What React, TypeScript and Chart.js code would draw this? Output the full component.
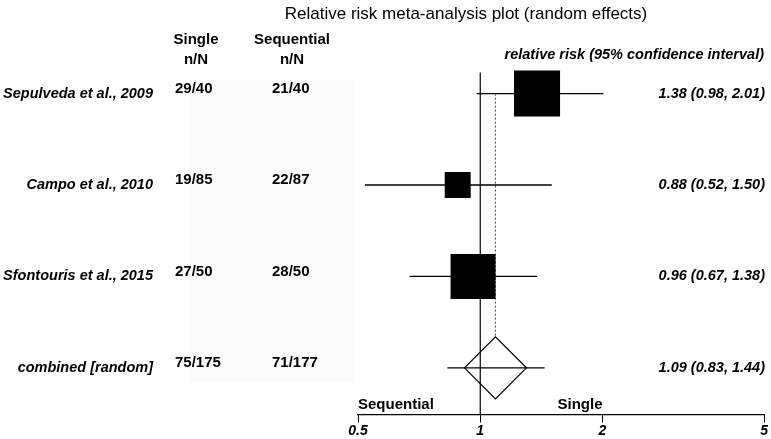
import React, { useEffect, useRef } from "react";
import { Chart, registerables } from "chart.js";

Chart.register(...registerables);

const studies = ["Sepulveda et al., 2009", "Campo et al., 2010", "Sfontouris et al., 2015"];
const singleNN = ["29/40", "19/85", "27/50"];
const sequentialNN = ["21/40", "22/87", "28/50"];
const rr = [1.38, 0.88, 0.96];
const lower = [0.98, 0.52, 0.67];
const upper = [2.01, 1.5, 1.38];
const weights = [44, 14, 42];

const pooledLabel = "combined [random]";
const pooledSingle = "75/175";
const pooledSequential = "71/177";
const pooledRR = 1.09;
const pooledLower = 0.83;
const pooledUpper = 1.44;

const tickValues = [0.5, 1, 2, 5];
const tickLabels = ["0.5", "1", "2", "5"];

const FONT = '"Liberation Sans", Arial, sans-serif';

export default function App() {
  const ref = useRef<HTMLCanvasElement | null>(null);

  useEffect(() => {
    const canvas = ref.current;
    if (!canvas) return;
    const rows = studies.map((_, i) => i + 1);
    const pooledRow = studies.length + 1;

    const textPlugin = {
      id: "forestText",
      beforeDraw(chart: any) {
        const ctx = chart.ctx;
        const y = chart.scales.y;
        ctx.save();
        ctx.fillStyle = "#fbfbfb";
        const top = y.getPixelForValue(1) - 13;
        const bot = y.getPixelForValue(pooledRow) + 15;
        ctx.fillRect(190, top, 164, bot - top);
        ctx.restore();
      },
      afterDraw(chart: any) {
        const ctx = chart.ctx;
        const x = chart.scales.x;
        const y = chart.scales.y;
        ctx.save();
        ctx.fillStyle = "#000";
        ctx.textBaseline = "middle";

        ctx.font = `17px ${FONT}`;
        ctx.textAlign = "center";
        ctx.fillText("Relative risk meta-analysis plot (random effects)", 466, 14);

        ctx.font = `bold 15px ${FONT}`;
        ctx.fillText("Single", 196, 40);
        ctx.fillText("n/N", 196, 60);
        ctx.fillText("Sequential", 292, 40);
        ctx.fillText("n/N", 292, 60);

        ctx.font = `bold italic 14.5px ${FONT}`;
        ctx.textAlign = "right";
        ctx.fillText("relative risk (95% confidence interval)", 764, 55);

        const allLabels = [...studies, pooledLabel];
        const allSingle = [...singleNN, pooledSingle];
        const allSeq = [...sequentialNN, pooledSequential];
        const allRR = [...rr, pooledRR];
        const allLo = [...lower, pooledLower];
        const allHi = [...upper, pooledUpper];
        allLabels.forEach((lab, i) => {
          const py = y.getPixelForValue(i + 1);
          ctx.font = `bold italic 14.5px ${FONT}`;
          ctx.textAlign = "right";
          ctx.fillText(lab, 153, py);
          ctx.font = `bold 15px ${FONT}`;
          ctx.textAlign = "left";
          ctx.fillText(allSingle[i], 175, py - 5);
          ctx.fillText(allSeq[i], 272, py - 5);
          ctx.font = `bold italic 14.5px ${FONT}`;
          ctx.textAlign = "right";
          ctx.fillText(
            `${allRR[i].toFixed(2)} (${allLo[i].toFixed(2)}, ${allHi[i].toFixed(2)})`,
            765,
            py
          );
        });

        ctx.font = `bold 15px ${FONT}`;
        ctx.textAlign = "left";
        ctx.fillText("Sequential", x.left, x.top - 10);
        ctx.textAlign = "right";
        ctx.fillText("Single", x.getPixelForValue(2), x.top - 10);
        ctx.restore();
      },
    };

    const lineStyle = {
      type: "line" as const,
      showLine: true,
      borderColor: "#000",
      borderWidth: 1.3,
      pointRadius: 0,
      fill: false,
    };

    const chart = new Chart(canvas, {
      type: "scatter",
      data: {
        datasets: [
          {
            data: rows.map((r, i) => ({ x: rr[i], y: r })),
            pointStyle: "rect",
            pointRadius: weights.map((w) => (6.94 * Math.sqrt(w)) / Math.SQRT2),
            backgroundColor: "#000",
            borderColor: "#000",
            borderWidth: 0,
          },
          {
            data: [{ x: pooledRR, y: pooledRow }],
            pointStyle: "rectRot",
            pointRadius: 31,
            backgroundColor: "rgba(0,0,0,0)",
            borderColor: "#000",
            borderWidth: 1.3,
          },
          ...rows.map((r, i) => ({
            ...lineStyle,
            data: [
              { x: lower[i], y: r },
              { x: upper[i], y: r },
            ],
          })),
          {
            ...lineStyle,
            data: [
              { x: pooledLower, y: pooledRow },
              { x: pooledUpper, y: pooledRow },
            ],
          },
          {
            ...lineStyle,
            borderWidth: 1.2,
            data: [
              { x: 1, y: 0.77 },
              { x: 1, y: 4.51 },
            ],
          },
          {
            ...lineStyle,
            borderWidth: 1,
            borderColor: "#444",
            borderDash: [2, 2],
            data: [
              { x: pooledRR, y: 1 },
              { x: pooledRR, y: 3.66 },
            ],
          },
        ],
      } as any,
      options: {
        animation: false,
        responsive: false,
        events: [],
        layout: { autoPadding: false, padding: { left: 358, right: 6, top: 25, bottom: 0 } },
        plugins: { legend: { display: false }, tooltip: { enabled: false }, title: { display: false } },
        scales: {
          x: {
            type: "logarithmic",
            min: 0.5,
            max: 5,
            afterBuildTicks: (scale: any) => {
              scale.ticks = tickValues.map((v) => ({ value: v }));
            },
            ticks: {
              autoSkip: false,
              maxRotation: 0,
              padding: 3,
              color: "#000",
              font: { family: FONT, size: 14, weight: "bold", style: "italic", lineHeight: 0.75 },
              callback: (v: any) => {
                const idx = tickValues.indexOf(Number(v));
                return idx >= 0 ? tickLabels[idx] : "";
              },
            },
            grid: { display: true, drawOnChartArea: false, drawTicks: true, tickLength: 8, color: "#000" },
            border: { display: true, color: "#000", width: 1.2 },
          },
          y: {
            type: "linear",
            display: false,
            reverse: true,
            min: 0.25,
            max: 4.51,
          },
        },
      } as any,
      plugins: [textPlugin],
    });
    return () => chart.destroy();
  }, []);

  return (
    <div style={{ position: "absolute", left: 0, top: 0, width: 771, height: 439, background: "#fff" }}>
      <canvas ref={ref} width={771} height={439} />
    </div>
  );
}
